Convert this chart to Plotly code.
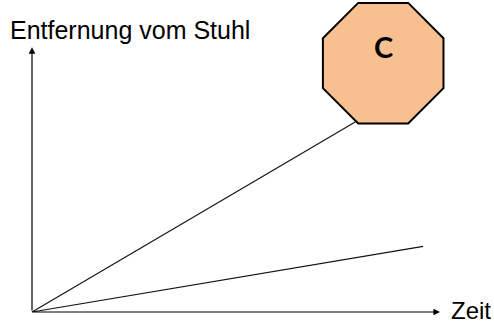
import plotly.graph_objects as go

# two movements away from the chair (time vs. distance, arbitrary units)
zeit_a = [0, 8.08]
entf_a = [0, 4.75]
zeit_b = [0, 9.78]
entf_b = [0, 1.64]

# object C sits at the end of the fast line
c_zeit = [8.78]
c_entf = [6.22]
c_label = ["C"]

x_label = "Zeit"
y_label = "Entfernung vom Stuhl"
x_max = 10.2
y_max = 6.62

fig = go.Figure()

fig.add_trace(go.Scatter(x=zeit_a, y=entf_a, mode="lines",
                         line=dict(color="#111", width=1.1), hoverinfo="skip"))
fig.add_trace(go.Scatter(x=zeit_b, y=entf_b, mode="lines",
                         line=dict(color="#111", width=1.1), hoverinfo="skip"))
fig.add_trace(go.Scatter(x=c_zeit, y=c_entf, mode="markers",
                         marker=dict(symbol="octagon", size=130.5, color="#F8C090",
                                     line=dict(color="black", width=2)),
                         hoverinfo="skip"))

# axes drawn as arrows
fig.add_annotation(x=x_max, y=0, ax=0, ay=0, xref="x", yref="y", axref="x", ayref="y",
                   text="", showarrow=True, arrowhead=2, arrowsize=1.1, arrowwidth=1.2,
                   arrowcolor="black")
fig.add_annotation(x=0, y=y_max, ax=0, ay=0, xref="x", yref="y", axref="x", ayref="y",
                   text="", showarrow=True, arrowhead=2, arrowsize=1.1, arrowwidth=1.2,
                   arrowcolor="black")

fig.add_annotation(x=x_max + 0.22, y=0.05, xref="x", yref="y", text=x_label,
                   showarrow=False, xanchor="left", yanchor="middle",
                   font=dict(family="Arial", size=24, color="black"))
fig.add_annotation(x=-0.6, y=7.05, xref="x", yref="y", text=y_label,
                   showarrow=False, xanchor="left", yanchor="middle",
                   font=dict(family="Arial", size=25, color="black"))
fig.add_annotation(x=c_zeit[0], y=6.63, xref="x", yref="y", text="<b>" + c_label[0] + "</b>",
                   showarrow=False, xanchor="center", yanchor="middle",
                   font=dict(family="Lato", size=29, color="black"))

fig.update_layout(
    width=494, height=324,
    margin=dict(l=0, r=0, t=0, b=0),
    paper_bgcolor="white", plot_bgcolor="white",
    showlegend=False,
    xaxis=dict(range=[-0.8, 11.55], visible=False, fixedrange=True),
    yaxis=dict(range=[-0.3, 7.8], visible=False, fixedrange=True),
)

fig.write_html("out.html", config={"displayModeBar": False},
               post_script="document.body.style.margin='0';")
